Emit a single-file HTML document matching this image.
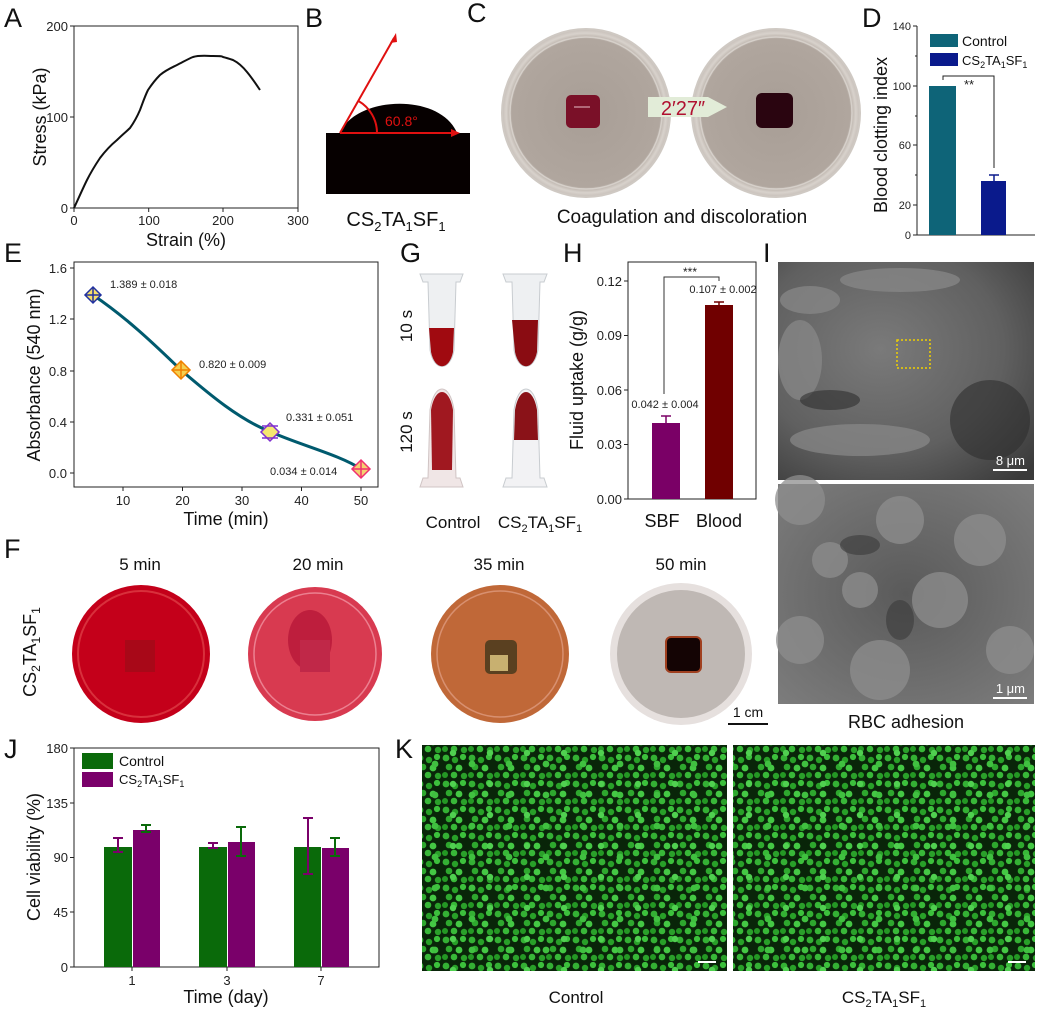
<!DOCTYPE html>
<html><head><meta charset="utf-8"><style>
html,body{margin:0;padding:0;background:#fff}
svg{display:block;font-family:"Liberation Sans",Arial,sans-serif}
</style></head><body>
<svg width="1043" height="1010" viewBox="0 0 1043 1010" xmlns="http://www.w3.org/2000/svg">
<defs>
<pattern id="cells" width="26" height="26" patternUnits="userSpaceOnUse">
<rect width="26" height="26" fill="#092509"/>
<circle cx="4" cy="4" r="3.4" fill="#34b034"/><circle cx="13" cy="6" r="3.2" fill="#28a028"/>
<circle cx="21" cy="3" r="3.1" fill="#3cc03c"/><circle cx="7" cy="13" r="3.3" fill="#2ea82e"/>
<circle cx="17" cy="14" r="3.4" fill="#44c844"/><circle cx="3" cy="21" r="3.0" fill="#249824"/>
<circle cx="12" cy="21" r="3.3" fill="#38b838"/><circle cx="22" cy="22" r="3.2" fill="#2aa02a"/>
</pattern>
<pattern id="cells2" width="37" height="31" patternUnits="userSpaceOnUse">
<circle cx="9" cy="9" r="3.2" fill="#50d050"/><circle cx="28" cy="20" r="3.4" fill="#40c040"/>
</pattern>
<radialGradient id="sem1" cx="0.4" cy="0.4" r="0.8"><stop offset="0" stop-color="#7a7a7a"/><stop offset="0.6" stop-color="#606060"/><stop offset="1" stop-color="#3a3a3a"/></radialGradient>
<radialGradient id="sem2" cx="0.5" cy="0.5" r="0.7"><stop offset="0" stop-color="#5a5a5a"/><stop offset="1" stop-color="#7c7c7c"/></radialGradient>
<radialGradient id="dishC" cx="0.5" cy="0.5" r="0.5"><stop offset="0" stop-color="#a89e96"/><stop offset="0.88" stop-color="#b0a69e"/><stop offset="0.95" stop-color="#d8d2cc"/><stop offset="1" stop-color="#c6beb8"/></radialGradient>
</defs>

<g font-size="27" fill="#111">
<text x="4" y="27">A</text><text x="305" y="27">B</text><text x="467" y="22">C</text><text x="862" y="27">D</text>
<text x="4" y="262">E</text><text x="400" y="262">G</text><text x="563" y="262">H</text><text x="763" y="262">I</text>
<text x="4" y="558">F</text><text x="4" y="758">J</text><text x="395" y="758">K</text>
</g>

<!-- A -->
<rect x="74" y="26" width="224" height="182" fill="none" stroke="#222" stroke-width="1"/>
<g stroke="#222"><line x1="74" y1="208" x2="74" y2="212"/><line x1="148.7" y1="208" x2="148.7" y2="212"/><line x1="223" y1="208" x2="223" y2="212"/><line x1="298" y1="208" x2="298" y2="212"/>
<line x1="70" y1="26" x2="74" y2="26"/><line x1="70" y1="117" x2="74" y2="117"/><line x1="70" y1="208" x2="74" y2="208"/></g>
<g font-size="13" fill="#222" text-anchor="end"><text x="68" y="31">200</text><text x="68" y="122">100</text><text x="68" y="213">0</text></g>
<g font-size="13" fill="#222" text-anchor="middle"><text x="74" y="225">0</text><text x="149" y="225">100</text><text x="223" y="225">200</text><text x="298" y="225">300</text></g>
<text x="186" y="246" font-size="18" text-anchor="middle" fill="#111">Strain (%)</text>
<text transform="translate(46,117) rotate(-90)" font-size="18" text-anchor="middle" fill="#111">Stress (kPa)</text>
<path d="M74,208 C80,195 84,186 87,180 C92,170 96,164 100,158 C106,150 111,145 117,140 C123,134 127,131 130,128 C135,121 137,117 140,110 C143,102 145,96 148,90 C152,84 155,80 160,75 C166,70 171,68 177,65 C183,62 188,59 193,57 C200,55 206,56 213,56 C218,56 222,56 223,57 C227,58 230,59 233,60 C239,63 243,67 247,72 C252,78 256,84 260,90" fill="none" stroke="#111" stroke-width="2"/>

<!-- B -->
<rect x="326" y="133" width="144" height="61" fill="#060000"/>
<path d="M340,133 C355,96 440,92 457,133 Z" fill="#060000"/>
<g stroke="#e01010" stroke-width="2" fill="none">
<line x1="340" y1="133" x2="394" y2="38"/><line x1="340" y1="133" x2="455" y2="133"/>
<path d="M358.5,101 A37,37 0 0 1 377,133"/>
</g>
<polygon points="396,33 390,43 397,42" fill="#e01010"/>
<polygon points="460,133 451,129 451,137" fill="#e01010"/>
<text x="385" y="126" font-size="14" fill="#e01010">60.8°</text>
<text x="396" y="226" font-size="20" text-anchor="middle" fill="#111">CS<tspan font-size="13" dy="5">2</tspan><tspan dy="-5">TA</tspan><tspan font-size="13" dy="5">1</tspan><tspan dy="-5">SF</tspan><tspan font-size="13" dy="5">1</tspan></text>

<!-- C -->
<circle cx="586" cy="113" r="84" fill="url(#dishC)" stroke="#cfc9c3" stroke-width="2"/>
<circle cx="586" cy="113" r="76" fill="none" stroke="#d6d0ca" stroke-width="1.5"/>
<circle cx="776" cy="113" r="84" fill="url(#dishC)" stroke="#cfc9c3" stroke-width="2"/>
<circle cx="776" cy="113" r="76" fill="none" stroke="#d6d0ca" stroke-width="1.5"/>
<rect x="566" y="95" width="34" height="33" rx="5" fill="#7a1028"/>
<line x1="574" y1="107" x2="590" y2="107" stroke="#e8c0c8" stroke-width="1"/>
<rect x="756" y="93" width="37" height="35" rx="6" fill="#2a0510"/>
<polygon points="648,97 708,97 727,107 708,117 648,117" fill="#e2ecd8"/>
<text x="683" y="115" font-size="20" text-anchor="middle" fill="#b01030">2′27″</text>
<text x="682" y="223" font-size="19" text-anchor="middle" fill="#111">Coagulation and discoloration</text>

<!-- D -->
<g stroke="#222"><line x1="917" y1="26" x2="917" y2="235"/><line x1="917" y1="235" x2="1035" y2="235"/>
<line x1="913" y1="26" x2="917" y2="26"/><line x1="913" y1="86" x2="917" y2="86"/><line x1="913" y1="145" x2="917" y2="145"/><line x1="913" y1="205" x2="917" y2="205"/><line x1="913" y1="235" x2="917" y2="235"/>
<line x1="915" y1="56" x2="917" y2="56"/><line x1="915" y1="116" x2="917" y2="116"/><line x1="915" y1="175" x2="917" y2="175"/></g>
<g font-size="11" fill="#222" text-anchor="end"><text x="911" y="30">140</text><text x="911" y="90">100</text><text x="911" y="149">60</text><text x="911" y="209">20</text><text x="911" y="239">0</text></g>
<text transform="translate(887,135) rotate(-90)" font-size="18" text-anchor="middle" fill="#111">Blood clotting index</text>
<rect x="929" y="86" width="27" height="149" fill="#0e6478"/>
<rect x="981" y="181" width="25" height="54" fill="#0a1a8c"/>
<g stroke="#0a1a8c" stroke-width="1.5"><line x1="994" y1="181" x2="994" y2="175"/><line x1="989" y1="175" x2="999" y2="175"/></g>
<path d="M943,80 L943,76 L994,76 L994,168" fill="none" stroke="#222" stroke-width="1"/>
<text x="969" y="89" font-size="13" text-anchor="middle" fill="#222">**</text>
<rect x="930" y="34" width="28" height="13" fill="#0e6478"/><rect x="930" y="53" width="28" height="13" fill="#0a1a8c"/>
<text x="962" y="46" font-size="14" fill="#111">Control</text>
<text x="962" y="65" font-size="13" fill="#111">CS<tspan font-size="9" dy="3">2</tspan><tspan dy="-3">TA</tspan><tspan font-size="9" dy="3">1</tspan><tspan dy="-3">SF</tspan><tspan font-size="9" dy="3">1</tspan></text>

<!-- E -->
<rect x="74" y="262" width="304" height="225" fill="none" stroke="#222"/>
<g stroke="#222"><line x1="70" y1="268" x2="74" y2="268"/><line x1="70" y1="319" x2="74" y2="319"/><line x1="70" y1="371" x2="74" y2="371"/><line x1="70" y1="422" x2="74" y2="422"/><line x1="70" y1="473" x2="74" y2="473"/>
<line x1="123" y1="487" x2="123" y2="491"/><line x1="182.5" y1="487" x2="182.5" y2="491"/><line x1="242" y1="487" x2="242" y2="491"/><line x1="301.5" y1="487" x2="301.5" y2="491"/><line x1="361" y1="487" x2="361" y2="491"/></g>
<g font-size="13" fill="#222" text-anchor="end"><text x="67" y="273">1.6</text><text x="67" y="324">1.2</text><text x="67" y="376">0.8</text><text x="67" y="427">0.4</text><text x="67" y="478">0.0</text></g>
<g font-size="13" fill="#222" text-anchor="middle"><text x="123" y="505">10</text><text x="182.5" y="505">20</text><text x="242" y="505">30</text><text x="301.5" y="505">40</text><text x="361" y="505">50</text></g>
<text x="226" y="525" font-size="18" text-anchor="middle" fill="#111">Time (min)</text>
<text transform="translate(40,375) rotate(-90)" font-size="18" text-anchor="middle" fill="#111">Absorbance (540 nm)</text>
<path d="M93,295 C130,320 160,350 181,370 C210,395 240,420 271,432 C300,445 340,455 361,469" fill="none" stroke="#005a6e" stroke-width="3"/>
<g stroke-width="1.5">
<g stroke="#2030a0"><polygon points="93,287 101,295 93,303 85,295" fill="#f5e06a"/><line x1="85" y1="295" x2="101" y2="295"/><line x1="93" y1="287" x2="93" y2="303"/></g>
<g stroke="#f08000"><polygon points="181,361 190,370 181,379 172,370" fill="#f5d050"/><line x1="172" y1="370" x2="190" y2="370"/><line x1="181" y1="361" x2="181" y2="379"/></g>
<g stroke="#8030d0"><polygon points="270,423 279,432 270,441 261,432" fill="#f5e870"/><line x1="262" y1="426" x2="278" y2="426"/><line x1="262" y1="438" x2="278" y2="438"/></g>
<g stroke="#f03070"><polygon points="361,460 370,469 361,478 352,469" fill="#f5d070"/><line x1="352" y1="469" x2="370" y2="469"/><line x1="361" y1="460" x2="361" y2="478"/></g>
</g>
<g font-size="11" fill="#222"><text x="110" y="288">1.389 ± 0.018</text><text x="199" y="368">0.820 ± 0.009</text><text x="286" y="421">0.331 ± 0.051</text><text x="270" y="475">0.034 ± 0.014</text></g>

<!-- G -->
<g>
<path d="M420,274 L463,274 L460,282 L456,282 L454,350 C450,372 434,372 430,350 L428,282 L423,282 Z" fill="#eef0f2" stroke="#c8ccd0"/>
<path d="M429,328 L454,328 L453,352 C449,371 435,371 431,352 Z" fill="#a00a10"/>
<path d="M503,274 L547,274 L544,282 L540,282 L538,350 C534,372 518,372 514,350 L512,282 L506,282 Z" fill="#eef0f2" stroke="#c8ccd0"/>
<path d="M512,320 L538,320 L537,352 C533,371 519,371 515,352 Z" fill="#8a0c12"/>
<path d="M420,487 L463,487 L460,478 L456,478 L454,410 C450,382 434,382 430,410 L428,478 L423,478 Z" fill="#f0e6e6" stroke="#d0c4c4"/>
<path d="M432,470 L452,470 L453,410 C449,386 435,386 431,410 Z" fill="#a01820"/>
<path d="M503,487 L547,487 L544,478 L540,478 L538,410 C534,382 518,382 514,410 L512,478 L506,478 Z" fill="#f2f2f4" stroke="#c8ccd0"/>
<path d="M514,440 L538,440 L537,410 C533,386 519,386 515,410 Z" fill="#8a1218"/>
</g>
<text transform="translate(412,326) rotate(-90)" font-size="17" text-anchor="middle" fill="#111">10 s</text>
<text transform="translate(412,432) rotate(-90)" font-size="17" text-anchor="middle" fill="#111">120 s</text>
<text x="453" y="528" font-size="17" text-anchor="middle" fill="#111">Control</text>
<text x="540" y="528" font-size="17" text-anchor="middle" fill="#111">CS<tspan font-size="11" dy="4">2</tspan><tspan dy="-4">TA</tspan><tspan font-size="11" dy="4">1</tspan><tspan dy="-4">SF</tspan><tspan font-size="11" dy="4">1</tspan></text>

<!-- H -->
<rect x="628" y="262" width="128" height="237" fill="none" stroke="#222"/>
<g stroke="#222"><line x1="624" y1="281" x2="628" y2="281"/><line x1="624" y1="335.5" x2="628" y2="335.5"/><line x1="624" y1="390" x2="628" y2="390"/><line x1="624" y1="444.5" x2="628" y2="444.5"/><line x1="624" y1="499" x2="628" y2="499"/></g>
<g font-size="13" fill="#222" text-anchor="end"><text x="622" y="286">0.12</text><text x="622" y="340">0.09</text><text x="622" y="395">0.06</text><text x="622" y="449">0.03</text><text x="622" y="504">0.00</text></g>
<text transform="translate(583,380) rotate(-90)" font-size="18" text-anchor="middle" fill="#111">Fluid uptake (g/g)</text>
<rect x="652" y="423" width="28" height="76" fill="#7a0066"/>
<rect x="705" y="305" width="28" height="194" fill="#700000"/>
<g stroke="#7a0066" stroke-width="1.5"><line x1="666" y1="416" x2="666" y2="430"/><line x1="661" y1="416" x2="671" y2="416"/><line x1="661" y1="430" x2="671" y2="430"/></g>
<g stroke="#700000" stroke-width="1.5"><line x1="719" y1="302" x2="719" y2="309"/><line x1="714" y1="302" x2="724" y2="302"/><line x1="714" y1="309" x2="724" y2="309"/></g>
<path d="M664,394 L664,277 L719,277 L719,281" fill="none" stroke="#333"/>
<text x="690" y="276" font-size="12" text-anchor="middle" fill="#222">***</text>
<text x="723" y="293" font-size="11" text-anchor="middle" fill="#222">0.107 ± 0.002</text>
<text x="665" y="408" font-size="11" text-anchor="middle" fill="#222">0.042 ± 0.004</text>
<text x="662" y="527" font-size="18" text-anchor="middle" fill="#111">SBF</text>
<text x="719" y="527" font-size="18" text-anchor="middle" fill="#111">Blood</text>

<!-- I -->
<rect x="778" y="262" width="256" height="218" fill="url(#sem1)"/>
<g fill="#8a8a8a" opacity="0.7"><ellipse cx="810" cy="300" rx="30" ry="14"/><ellipse cx="900" cy="280" rx="60" ry="12"/><ellipse cx="860" cy="440" rx="70" ry="16"/><ellipse cx="800" cy="360" rx="22" ry="40"/></g>
<g fill="#2e2e2e" opacity="0.6"><ellipse cx="990" cy="420" rx="40" ry="40"/><ellipse cx="830" cy="400" rx="30" ry="10"/></g>
<rect x="897" y="340" width="33" height="28" fill="none" stroke="#f0d000" stroke-width="1.5" stroke-dasharray="2,2"/>
<text x="1025" y="465" font-size="13" text-anchor="end" fill="#fff">8 μm</text>
<line x1="993" y1="470" x2="1027" y2="470" stroke="#fff" stroke-width="2"/>
<rect x="778" y="484" width="256" height="220" fill="url(#sem2)"/>
<g fill="#8e8e8e" opacity="0.75"><circle cx="800" cy="500" r="25"/><circle cx="900" cy="520" r="24"/><circle cx="980" cy="540" r="26"/><circle cx="830" cy="560" r="18"/><circle cx="940" cy="600" r="28"/><circle cx="800" cy="640" r="24"/><circle cx="880" cy="670" r="30"/><circle cx="1010" cy="650" r="24"/><circle cx="860" cy="590" r="18"/></g>
<g fill="#3a3a3a" opacity="0.6"><ellipse cx="900" cy="620" rx="14" ry="20"/><ellipse cx="860" cy="545" rx="20" ry="10"/></g>
<text x="1025" y="693" font-size="13" text-anchor="end" fill="#fff">1 μm</text>
<line x1="993" y1="698" x2="1027" y2="698" stroke="#fff" stroke-width="2"/>
<text x="906" y="728" font-size="18" text-anchor="middle" fill="#111">RBC adhesion</text>

<!-- F -->
<g font-size="17" fill="#111" text-anchor="middle"><text x="140" y="570">5 min</text><text x="318" y="570">20 min</text><text x="499" y="570">35 min</text><text x="681" y="570">50 min</text></g>
<text transform="translate(36,652) rotate(-90)" font-size="18" text-anchor="middle" fill="#111">CS<tspan font-size="12" dy="4">2</tspan><tspan dy="-4">TA</tspan><tspan font-size="12" dy="4">1</tspan><tspan dy="-4">SF</tspan><tspan font-size="12" dy="4">1</tspan></text>
<circle cx="141" cy="654" r="69" fill="#c4001a"/><circle cx="141" cy="654" r="63" fill="none" stroke="#d8303c" stroke-width="2"/>
<rect x="125" y="640" width="30" height="32" fill="#a80818"/>
<circle cx="315" cy="654" r="67" fill="#d83a50"/><circle cx="315" cy="654" r="61" fill="none" stroke="#ec8090" stroke-width="1.5"/>
<ellipse cx="310" cy="640" rx="22" ry="30" fill="#b81838" opacity="0.8"/>
<rect x="300" y="640" width="30" height="32" fill="#c02848"/>
<circle cx="500" cy="654" r="69" fill="#c06838"/><circle cx="500" cy="654" r="63" fill="none" stroke="#d89070" stroke-width="1.5"/>
<rect x="485" y="640" width="32" height="34" rx="5" fill="#5a4020"/><rect x="490" y="655" width="18" height="16" fill="#c8b070"/>
<circle cx="681" cy="654" r="71" fill="#e6e0de"/><circle cx="681" cy="654" r="64" fill="#bfb8b4"/>
<rect x="666" y="637" width="35" height="35" rx="5" fill="#140404" stroke="#a04020" stroke-width="2"/>
<text x="748" y="717" font-size="14" text-anchor="middle" fill="#111">1 cm</text>
<line x1="728" y1="724" x2="768" y2="724" stroke="#111" stroke-width="2"/>

<!-- J -->
<rect x="74" y="748" width="305" height="219" fill="none" stroke="#222"/>
<g stroke="#222"><line x1="70" y1="748" x2="74" y2="748"/><line x1="70" y1="803" x2="74" y2="803"/><line x1="70" y1="857.5" x2="74" y2="857.5"/><line x1="70" y1="912" x2="74" y2="912"/><line x1="70" y1="967" x2="74" y2="967"/>
<line x1="132" y1="967" x2="132" y2="971"/><line x1="227" y1="967" x2="227" y2="971"/><line x1="321" y1="967" x2="321" y2="971"/></g>
<g font-size="13" fill="#222" text-anchor="end"><text x="68" y="753">180</text><text x="68" y="808">135</text><text x="68" y="862">90</text><text x="68" y="917">45</text><text x="68" y="972">0</text></g>
<g font-size="13" fill="#222" text-anchor="middle"><text x="132" y="985">1</text><text x="227" y="985">3</text><text x="321" y="985">7</text></g>
<text x="226" y="1003" font-size="18" text-anchor="middle" fill="#111">Time (day)</text>
<text transform="translate(40,857) rotate(-90)" font-size="18" text-anchor="middle" fill="#111">Cell viability (%)</text>
<g fill="#0a6a0a"><rect x="104" y="847" width="28" height="120"/><rect x="199" y="847" width="28" height="120"/><rect x="294" y="847" width="27" height="120"/></g>
<g fill="#7a006a"><rect x="133" y="830" width="27" height="137"/><rect x="228" y="842" width="27" height="125"/><rect x="322" y="848" width="27" height="119"/></g>
<g stroke="#7a006a" stroke-width="2"><path d="M118,838 V852 M113,838 H123 M113,852 H123"/><path d="M213,843 V848 M208,843 H218 M208,848 H218"/><path d="M308,818 V874 M303,818 H313 M303,874 H313"/></g>
<g stroke="#0a6a0a" stroke-width="2"><path d="M146,825 V832 M141,825 H151 M141,832 H151"/><path d="M241,827 V856 M236,827 H246 M236,856 H246"/><path d="M335,838 V856 M330,838 H340 M330,856 H340"/></g>
<rect x="82" y="753" width="31" height="16" fill="#0a6a0a"/><rect x="82" y="772" width="31" height="15" fill="#7a006a"/>
<text x="119" y="766" font-size="14" fill="#111">Control</text>
<text x="119" y="784" font-size="13" fill="#111">CS<tspan font-size="9" dy="3">2</tspan><tspan dy="-3">TA</tspan><tspan font-size="9" dy="3">1</tspan><tspan dy="-3">SF</tspan><tspan font-size="9" dy="3">1</tspan></text>

<!-- K -->
<rect x="422" y="745" width="305" height="226" fill="url(#cells)"/>
<rect x="422" y="745" width="305" height="226" fill="url(#cells2)"/>
<rect x="733" y="745" width="302" height="226" fill="url(#cells)"/>
<rect x="733" y="745" width="302" height="226" fill="url(#cells2)"/>
<line x1="698" y1="962" x2="716" y2="962" stroke="#fff" stroke-width="2"/>
<line x1="1008" y1="962" x2="1026" y2="962" stroke="#fff" stroke-width="2"/>
<text x="576" y="1003" font-size="17" text-anchor="middle" fill="#111">Control</text>
<text x="884" y="1003" font-size="17" text-anchor="middle" fill="#111">CS<tspan font-size="11" dy="4">2</tspan><tspan dy="-4">TA</tspan><tspan font-size="11" dy="4">1</tspan><tspan dy="-4">SF</tspan><tspan font-size="11" dy="4">1</tspan></text>
</svg>
</body></html>
